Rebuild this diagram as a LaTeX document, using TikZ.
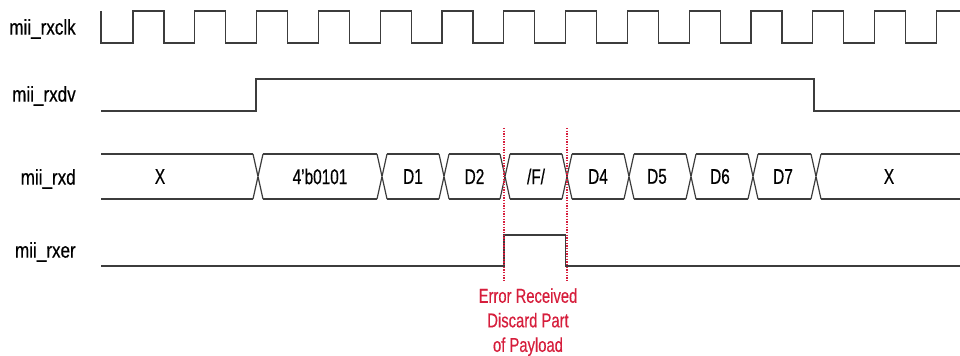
\documentclass[tikz,border=0pt]{standalone}
\usepackage{fontspec}
\setmainfont{Liberation Sans}[FakeStretch=0.8, FakeBold=0.5]
\newfontfamily\busfont{Liberation Sans}[FakeStretch=0.72, FakeBold=0.5]
\newfontfamily\notefont{Liberation Sans}[FakeStretch=0.74, FakeBold=0.4]
\usetikzlibrary{calc}

\definecolor{errred}{RGB}{214,30,60}
\definecolor{wavegray}{RGB}{60,60,60}

\begin{document}
\begin{tikzpicture}[
		x=0.75pt,
		y=-0.75pt,
		line cap=butt,
		line join=miter,
		wave/.style={draw=wavegray, line width=0.9pt},
		siglabel/.style={anchor=east, inner sep=0pt, font=\fontsize{16}{18}\selectfont},
		buslabel/.style={inner sep=0pt, font=\busfont\fontsize{16}{18}\selectfont},
		errmark/.style={draw=errred, line width=0.8pt, dash pattern=on 1pt off 1pt},
		errnote/.style={text=errred, align=center, inner sep=0pt, anchor=north,
			font=\notefont\fontsize{15}{18.4}\selectfont}
		]
		
		\useasboundingbox (0,0) rectangle (960,356);
		
		%------------------------------------------------------------------
		% Levels
		%------------------------------------------------------------------
		\def\clkHi{11}   \def\clkLo{43}
		\def\dvHi{79}    \def\dvLo{111}
		\def\busTop{154} \def\busBot{199} \def\busMid{176.5}
		\def\erHi{235}   \def\erLo{266}
		\def\bw{5}
		
		\coordinate (errAtop) at (504,128);
		\coordinate (errAbot) at (504,282);
		\coordinate (errBtop) at (567,128);
		\coordinate (errBbot) at (567,282);
		
		%------------------------------------------------------------------
		% Signal names
		%------------------------------------------------------------------
		\node[siglabel] (lclk)  at (76, 29)  {mii\_rxclk};
		\node[siglabel] (ldv)   at (76, 96)  {mii\_rxdv};
		\node[siglabel] (lrxd)  at (76, 179) {mii\_rxd};
		\node[siglabel] (lrxer) at (76, 252) {mii\_rxer};
		
		%------------------------------------------------------------------
		% mii_rxclk
		%------------------------------------------------------------------
		\draw[wave] (101,\clkHi) -- (101,\clkLo)
		foreach \k in {0,...,12}{
			-- ({133+61.8*\k},\clkLo) -- ({133+61.8*\k},\clkHi)
			-- ({163.9+61.8*\k},\clkHi) -- ({163.9+61.8*\k},\clkLo)
		}
		-- (936.4,\clkLo) -- (936.4,\clkHi) -- (960,\clkHi);
		
		%------------------------------------------------------------------
		% mii_rxdv
		%------------------------------------------------------------------
		\draw[wave] (101,\dvLo) -- (256,\dvLo) -- (256,\dvHi)
		-- (814,\dvHi) -- (814,\dvLo) -- (960,\dvLo);
		
		%------------------------------------------------------------------
		% mii_rxd bus
		%------------------------------------------------------------------
		\foreach \a/\b in {96/258, 258/382, 382/444, 444/505, 505/567,
			567/629, 629/691, 691/753, 753/816, 816/965}{
			\draw[wave] ({\a+\bw},\busTop) -- ({\b-\bw},\busTop)
			({\a+\bw},\busBot) -- ({\b-\bw},\busBot);
		}
		\foreach \t in {258,382,444,505,567,629,691,753,816}{
			\draw[wave] ({\t-\bw},\busTop) -- ({\t+\bw},\busBot)
			({\t-\bw},\busBot) -- ({\t+\bw},\busTop);
		}
		
		\node[buslabel] (dx0) at (160,\busMid) {X};
		\node[buslabel] (dpre) at (320,\busMid) {4’b0101};
		\node[buslabel] (d1) at (413,\busMid) {D1};
		\node[buslabel] (d2) at (474.5,\busMid) {D2};
		\node[buslabel] (dF) at (536,\busMid) {/F/};
		\node[buslabel] (d4) at (598,\busMid) {D4};
		\node[buslabel] (d5) at (657,\busMid) {D5};
		\node[buslabel] (d6) at (720,\busMid) {D6};
		\node[buslabel] (d7) at (783,\busMid) {D7};
		\node[buslabel] (dx1) at (889,\busMid) {X};
		
		%------------------------------------------------------------------
		% mii_rxer
		%------------------------------------------------------------------
		\draw[wave] (101,\erLo) -- (504,\erLo) -- (504,\erHi)
		-- (565.5,\erHi) -- (565.5,\erLo) -- (960,\erLo);
		
		%------------------------------------------------------------------
		% Error window markers
		%------------------------------------------------------------------
		\draw[errmark] (errAtop) -- (errAbot);
		\draw[errmark] (errBtop) -- (errBbot);
		
		\node[errnote] (errtxt) at (528,288)
		{Error Received\\Discard Part\\of Payload};
		
	\end{tikzpicture}
\end{document}
